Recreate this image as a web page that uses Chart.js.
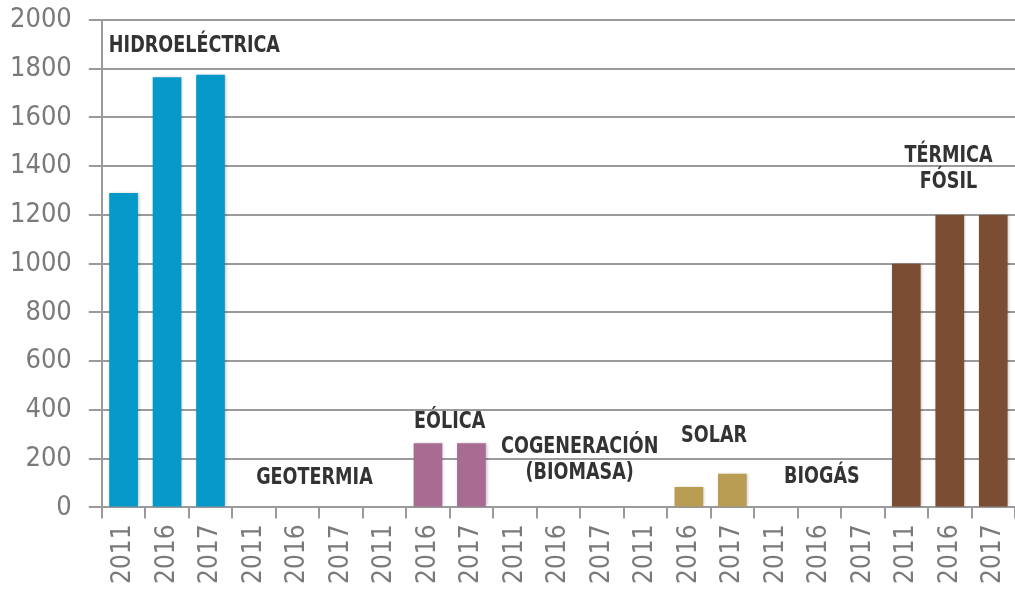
<!DOCTYPE html>
<html>
<head>
<meta charset="utf-8">
<script src="https://cdn.jsdelivr.net/npm/chart.js@4"></script>
<style>
    html, body { margin: 0; padding: 0; background: #fff; }
    #wrap { width: 1015px; height: 590px; }
</style>
</head>
<body>
<div id="wrap"><canvas id="capChart"></canvas></div>
<script>
// data
const years = ['2011', '2016', '2017', '2011', '2016', '2017', '2011', '2016', '2017',
    '2011', '2016', '2017', '2011', '2016', '2017', '2011', '2016', '2017', '2011', '2016', '2017'];
const sources = ['HIDROELÉCTRICA', 'GEOTERMIA', 'EÓLICA', 'COGENERACIÓN (BIOMASA)', 'SOLAR', 'BIOGÁS', 'TÉRMICA FÓSIL'];
const capacity = [1290, 1765, 1775, 0, 0, 0, 0, 264, 264, 0, 0, 0, 0, 84, 138, 0, 4, 4, 1000, 1200, 1200];
const yTicks = [0, 200, 400, 600, 800, 1000, 1200, 1400, 1600, 1800, 2000];

const sourceColors = ['#0599c9', '#0599c9', '#a86b91', '#a86b91', '#b89d52', '#b89d52', '#7b4d33'];

// each bar gets the colour of its source group
const barColors = capacity.map((v, i) => sourceColors[Math.floor(i / 3)]);

// group labels, placed in axis units (category index, value)
const groupLabels = [
    { lines: ['HIDROELÉCTRICA'], x: 1.63, y: 1893 },
    { lines: ['GEOTERMIA'], x: 4.39, y: 119 },
    { lines: ['EÓLICA'], x: 7.5, y: 349 },
    { lines: ['COGENERACIÓN', '(BIOMASA)'], x: 10.49, y: 246 },
    { lines: ['SOLAR'], x: 13.58, y: 292 },
    { lines: ['BIOGÁS'], x: 16.06, y: 123 },
    { lines: ['TÉRMICA', 'FÓSIL'], x: 18.97, y: 1441 }
];

const tickFont = '"DejaVu Sans Condensed", "Liberation Sans Narrow", sans-serif';

const labelPlugin = {
    id: 'groupLabels',
    afterDatasetsDraw(chart) {
        const { ctx, scales } = chart;
        ctx.save();
        ctx.font = 'bold 23px "DejaVu Sans Condensed", sans-serif';
        ctx.fillStyle = '#333333';
        ctx.textAlign = 'center';
        ctx.textBaseline = 'middle';
        groupLabels.forEach(g => {
            const x = scales.x.getPixelForValue(g.x);
            const y = scales.y.getPixelForValue(g.y);
            g.lines.forEach((line, k) => {
                // squeeze horizontally, the original face is narrower
                ctx.save();
                ctx.translate(x, y + k * 26);
                ctx.scale(0.85, 1);
                ctx.fillText(line, 0, 0);
                ctx.restore();
            });
        });
        ctx.restore();
    }
};

// soft shadow under the bars
const shadowPlugin = {
    id: 'barShadow',
    beforeDatasetsDraw(chart) {
        const ctx = chart.ctx;
        ctx.save();
        ctx.shadowColor = 'rgba(0,0,0,0.25)';
        ctx.shadowBlur = 3;
        ctx.shadowOffsetX = 1;
        ctx.shadowOffsetY = 0;
    },
    afterDatasetsDraw(chart) {
        chart.ctx.restore();
    }
};

// drop the extra room chart.js keeps for half labels
const noEdgePadding = axis => {
    axis.paddingTop = 0;
    axis.paddingBottom = 0;
    axis.paddingLeft = 0;
    axis.paddingRight = 0;
};

const ctx = document.getElementById('capChart').getContext('2d');
new Chart(ctx, {
    type: 'bar',
    data: {
        labels: years,
        datasets: [{
            data: capacity,
            backgroundColor: barColors,
            borderWidth: 0,
            categoryPercentage: 1,
            barPercentage: 0.66
        }]
    },
    options: {
        responsive: true,
        maintainAspectRatio: false,
        animation: false,
        layout: { padding: { top: 20, left: -7, right: 0, bottom: 0 } },
        plugins: {
            legend: { display: false },
            tooltip: { enabled: false }
        },
        scales: {
            x: {
                offset: true,
                afterFit: noEdgePadding,
                grid: {
                    display: true,
                    drawOnChartArea: false,
                    offset: true,
                    color: '#9a9a9a',
                    lineWidth: 2,
                    tickLength: 11
                },
                border: { display: false },
                ticks: {
                    color: '#7a7a7a',
                    font: { family: tickFont, size: 26 },
                    minRotation: 90,
                    maxRotation: 90,
                    autoSkip: false,
                    padding: 6
                }
            },
            y: {
                min: 0,
                max: 2000,
                afterFit: noEdgePadding,
                afterBuildTicks: axis => { axis.ticks = yTicks.map(v => ({ value: v })); },
                grid: {
                    color: '#9a9a9a',
                    lineWidth: 2,
                    tickLength: 13
                },
                border: { display: true, color: '#9a9a9a', width: 2 },
                ticks: {
                    color: '#7a7a7a',
                    font: { family: tickFont, size: 27 },
                    padding: 17,
                    callback: v => String(v)
                }
            }
        }
    },
    plugins: [shadowPlugin, labelPlugin]
});
</script>
</body>
</html>
